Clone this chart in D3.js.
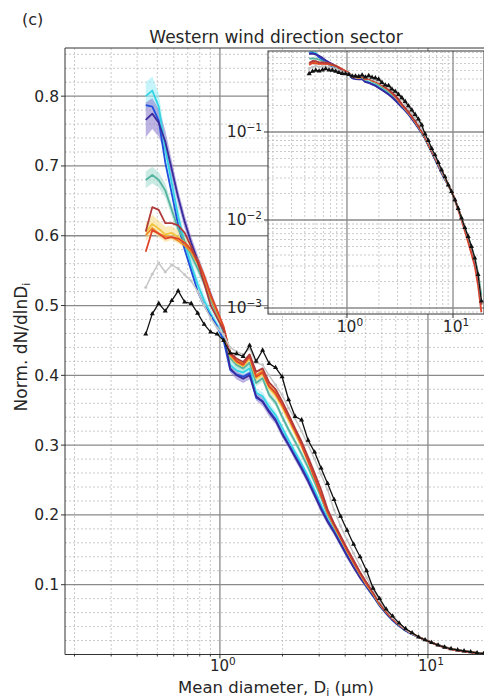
<!DOCTYPE html>
<html>
<head>
<meta charset="utf-8">
<script src="https://cdn.jsdelivr.net/npm/d3@7"></script>
<style>
body { margin: 0; background: #fff; }
text { font-family: "DejaVu Sans", sans-serif; fill: #262626; }
</style>
</head>
<body>
<script>
// mean diameter of each size bin (um)
var diameters = [0.44, 0.473, 0.508, 0.546, 0.587, 0.630, 0.677, 0.728, 0.782, 0.840, 0.903, 0.970, 1.042,
  1.120, 1.203, 1.293, 1.389, 1.493, 1.604, 1.724, 1.852, 1.990, 2.139, 2.298, 2.470, 2.654, 2.852, 3.065,
  3.293, 3.539, 3.803, 4.087, 4.392, 4.719, 5.071, 5.450, 5.856, 6.293, 6.763, 7.267, 7.809, 8.392, 9.018,
  9.691, 10.41, 11.19, 12.03, 12.92, 13.89, 14.92, 16.04, 17.23, 18.52];

// normalised dN/dlnD, one array per series
var cyanVals = [0.800, 0.808, 0.785, 0.725, 0.675, 0.628, 0.590, 0.558, 0.530, 0.507, 0.488, 0.472, 0.452,
  0.415, 0.407, 0.404, 0.410, 0.375, 0.370, 0.355, 0.343, 0.325, 0.307, 0.290, 0.273, 0.255, 0.235, 0.214,
  0.193, 0.176, 0.159, 0.142, 0.126, 0.111, 0.097, 0.084, 0.070, 0.059, 0.049, 0.041, 0.034, 0.029, 0.025,
  0.021, 0.017, 0.0135, 0.0105, 0.008, 0.0062, 0.0047, 0.0034, 0.0022, 0.0011];
var blueVals = [0.787, 0.785, 0.765, 0.705, 0.660, 0.615, 0.580, 0.550, 0.520, 0.500, 0.485, 0.470, 0.450,
  0.408, 0.401, 0.398, 0.403, 0.368, 0.363, 0.349, 0.337, 0.318, 0.301, 0.285, 0.268, 0.250, 0.230, 0.210,
  0.192, 0.177, 0.160, 0.143, 0.127, 0.112, 0.098, 0.085, 0.071, 0.060, 0.050, 0.042, 0.035, 0.029, 0.025,
  0.021, 0.017, 0.0135, 0.0105, 0.008, 0.0062, 0.0047, 0.0034, 0.0022, 0.0011];
var indigoVals = [0.766, 0.775, 0.762, 0.735, 0.695, 0.655, 0.620, 0.590, 0.565, 0.540, 0.515, 0.490, 0.462,
  0.410, 0.400, 0.395, 0.400, 0.370, 0.362, 0.347, 0.335, 0.316, 0.300, 0.283, 0.266, 0.248, 0.228, 0.208,
  0.190, 0.175, 0.158, 0.141, 0.125, 0.110, 0.097, 0.084, 0.070, 0.059, 0.049, 0.041, 0.034, 0.029, 0.025,
  0.021, 0.017, 0.0135, 0.0105, 0.008, 0.0062, 0.0047, 0.0034, 0.0022, 0.0011];
var tealVals = [0.680, 0.687, 0.680, 0.665, 0.637, 0.610, 0.592, 0.572, 0.553, 0.532, 0.508, 0.487, 0.462,
  0.425, 0.415, 0.410, 0.418, 0.389, 0.396, 0.372, 0.361, 0.341, 0.322, 0.305, 0.287, 0.268, 0.247, 0.225,
  0.200, 0.182, 0.165, 0.148, 0.131, 0.115, 0.100, 0.087, 0.072, 0.061, 0.051, 0.043, 0.036, 0.030, 0.025,
  0.021, 0.017, 0.0135, 0.0105, 0.0082, 0.0064, 0.005, 0.0037, 0.0025, 0.0014];
var brownVals = [0.606, 0.641, 0.637, 0.618, 0.618, 0.615, 0.604, 0.584, 0.562, 0.532, 0.500, 0.482, 0.465,
  0.433, 0.424, 0.419, 0.430, 0.405, 0.410, 0.390, 0.380, 0.363, 0.344, 0.324, 0.305, 0.283, 0.260, 0.236,
  0.208, 0.188, 0.170, 0.152, 0.135, 0.118, 0.103, 0.089, 0.074, 0.062, 0.052, 0.044, 0.036, 0.030, 0.025,
  0.021, 0.017, 0.0135, 0.0105, 0.008, 0.0062, 0.0047, 0.0034, 0.0022, 0.0011];
var redVals = [0.577, 0.608, 0.603, 0.596, 0.598, 0.596, 0.590, 0.580, 0.565, 0.543, 0.515, 0.493, 0.470,
  0.430, 0.420, 0.415, 0.427, 0.398, 0.404, 0.384, 0.374, 0.358, 0.339, 0.320, 0.300, 0.277, 0.253, 0.228,
  0.204, 0.185, 0.167, 0.149, 0.132, 0.116, 0.101, 0.088, 0.073, 0.061, 0.051, 0.043, 0.036, 0.030, 0.025,
  0.021, 0.017, 0.013, 0.010, 0.0075, 0.0056, 0.0041, 0.003, 0.0018, 0.0009];
var orangeVals = [0.601, 0.611, 0.603, 0.599, 0.598, 0.593, 0.586, 0.577, 0.560, 0.538, 0.512, 0.490, 0.468,
  0.432, 0.422, 0.417, 0.429, 0.400, 0.407, 0.386, 0.376, 0.360, 0.341, 0.322, 0.302, 0.279, 0.255, 0.230,
  0.205, 0.186, 0.168, 0.150, 0.133, 0.117, 0.102, 0.088, 0.073, 0.062, 0.052, 0.043, 0.036, 0.030, 0.025,
  0.021, 0.017, 0.0135, 0.0105, 0.008, 0.0062, 0.0047, 0.0034, 0.0022, 0.0011];
var goldVals = [0.605, 0.617, 0.610, 0.602, 0.604, 0.598, 0.590, 0.580, 0.563, 0.540, 0.513, 0.490, 0.466,
  0.428, 0.418, 0.413, 0.424, 0.396, 0.402, 0.382, 0.371, 0.355, 0.336, 0.317, 0.298, 0.276, 0.252, 0.228,
  0.203, 0.184, 0.166, 0.148, 0.131, 0.115, 0.100, 0.087, 0.072, 0.061, 0.051, 0.043, 0.036, 0.030, 0.025,
  0.021, 0.017, 0.0135, 0.0105, 0.008, 0.0062, 0.0047, 0.0034, 0.0022, 0.0011];
var grayVals = [0.526, 0.545, 0.561, 0.548, 0.558, 0.553, 0.544, 0.535, 0.520, 0.500, 0.482, 0.468, 0.458,
  0.440, 0.434, 0.430, 0.438, 0.418, 0.415, 0.400, 0.386, 0.372, 0.353, 0.338, 0.320, 0.300, 0.280, 0.258,
  0.236, 0.207, 0.184, 0.164, 0.145, 0.127, 0.110, 0.093, 0.077, 0.064, 0.053, 0.044, 0.036, 0.030, 0.025,
  0.021, 0.017, 0.0135, 0.0105, 0.0082, 0.0064, 0.0049, 0.0036, 0.0024, 0.0012];
var blackVals = [0.459, 0.488, 0.503, 0.492, 0.507, 0.521, 0.505, 0.503, 0.489, 0.473, 0.462, 0.459, 0.450,
  0.432, 0.431, 0.427, 0.443, 0.420, 0.436, 0.417, 0.411, 0.398, 0.365, 0.341, 0.336, 0.307, 0.290, 0.267,
  0.245, 0.222, 0.198, 0.178, 0.158, 0.140, 0.120, 0.095, 0.080, 0.065, 0.055, 0.045, 0.037, 0.031, 0.025,
  0.021, 0.017, 0.0135, 0.0105, 0.0082, 0.0065, 0.005, 0.0037, 0.0024, 0.0012];

// spread (half width of shaded band)
var cyanSd = [0.020, 0.020, 0.019, 0.017, 0.015, 0.013, 0.011, 0.010, 0.009, 0.008, 0.008, 0.007, 0.007,
  0.006, 0.006, 0.006, 0.006, 0.006, 0.006, 0.006, 0.006, 0.005, 0.005, 0.005, 0.005, 0.005, 0.005, 0.005,
  0.004, 0.004, 0.004, 0.004, 0.003, 0.003, 0.003, 0.003, 0.002, 0.002, 0.002, 0.002, 0.001, 0.001, 0.001,
  0.001, 0.001, 0.001, 0.001, 0.001, 0.001, 0.001, 0.001, 0.001, 0.001];
var indigoSd = [0.025, 0.022, 0.020, 0.016, 0.013, 0.011, 0.010, 0.009, 0.008, 0.008, 0.007, 0.007, 0.006,
  0.006, 0.006, 0.006, 0.006, 0.006, 0.006, 0.006, 0.005, 0.005, 0.005, 0.005, 0.005, 0.005, 0.005, 0.005,
  0.004, 0.004, 0.004, 0.004, 0.003, 0.003, 0.003, 0.003, 0.002, 0.002, 0.002, 0.002, 0.001, 0.001, 0.001,
  0.001, 0.001, 0.001, 0.001, 0.001, 0.001, 0.001, 0.001, 0.001, 0.001];
var tealSd = [0.012, 0.012, 0.011, 0.010, 0.009, 0.008, 0.008, 0.007, 0.007, 0.006, 0.006, 0.006, 0.005,
  0.005, 0.005, 0.005, 0.005, 0.005, 0.005, 0.005, 0.005, 0.005, 0.005, 0.005, 0.005, 0.005, 0.005, 0.005,
  0.004, 0.004, 0.004, 0.004, 0.003, 0.003, 0.003, 0.003, 0.002, 0.002, 0.002, 0.002, 0.001, 0.001, 0.001,
  0.001, 0.001, 0.001, 0.001, 0.001, 0.001, 0.001, 0.001, 0.001, 0.001];
var goldSd = [0.013, 0.013, 0.012, 0.011, 0.010, 0.009, 0.008, 0.008, 0.007, 0.007, 0.006, 0.006, 0.006,
  0.005, 0.005, 0.005, 0.005, 0.005, 0.005, 0.005, 0.005, 0.005, 0.005, 0.005, 0.005, 0.005, 0.005, 0.005,
  0.004, 0.004, 0.004, 0.004, 0.003, 0.003, 0.003, 0.003, 0.002, 0.002, 0.002, 0.002, 0.001, 0.001, 0.001,
  0.001, 0.001, 0.001, 0.001, 0.001, 0.001, 0.001, 0.001, 0.001, 0.001];

// tick labels
var mainYTicks = [0.1, 0.2, 0.3, 0.4, 0.5, 0.6, 0.7, 0.8];
var decadeTicks = [1, 10];
var decadeExp = ["0", "1"];
var insetYTicks = [0.1, 0.01, 0.001];
var insetYExp = ["\u22121", "\u22122", "\u22123"];

var series = [
  {vals: cyanVals, sd: cyanSd, color: "#33d4e4", band: "#9eeef6", w: 1.8},
  {vals: blueVals, color: "#1f4fdc", w: 1.8},
  {vals: indigoVals, sd: indigoSd, color: "#3a2a9c", band: "#9080d0", w: 1.8},
  {vals: tealVals, sd: tealSd, color: "#56b3a0", band: "#a6ddd1", w: 1.8},
  {vals: goldVals, sd: goldSd, color: "#f2c33c", band: "#f8dc8c", w: 1.8},
  {vals: orangeVals, color: "#f08a24", w: 1.8},
  {vals: redVals, color: "#e0452c", w: 1.8},
  {vals: brownVals, color: "#b03a3a", w: 1.8},
  {vals: grayVals, color: "#c6c6c6", w: 1.5, marker: "circle"},
  {vals: blackVals, color: "#111111", w: 1.3, marker: "triangle"}
];

var svg = d3.select("body").append("svg")
    .attr("width", 484)
    .attr("height", 700)
    .style("background-color", "#fff");

var main = {left: 65, right: 484, top: 48, bottom: 654.5};
var ins = {left: 268, right: 484, top: 51, bottom: 314};

var x = d3.scaleLog().domain([0.18, 18.6]).range([main.left, main.right]);
var y = d3.scaleLinear().domain([0, 0.869]).range([main.bottom, main.top]);

var xi = d3.scaleLog().domain([0.18, 19.6]).range([ins.left, ins.right]);
var yi = d3.scaleLog().domain([0.000855, 0.832]).range([ins.bottom, ins.top]);

var defs = svg.append("defs");
defs.append("clipPath").attr("id", "clipMain").append("rect")
    .attr("x", main.left).attr("y", main.top)
    .attr("width", main.right - main.left).attr("height", main.bottom - main.top);
defs.append("clipPath").attr("id", "clipInset").append("rect")
    .attr("x", ins.left).attr("y", ins.top)
    .attr("width", ins.right - ins.left).attr("height", ins.bottom - ins.top);

// minor log ticks inside a range
function logMinors(lo, hi) {
  var out = [];
  for (var e = -4; e <= 2; e++) {
    for (var m = 2; m <= 9; m++) {
      var v = m * Math.pow(10, e);
      if (v > lo && v < hi) out.push(v);
    }
  }
  return out;
}

function sup(sel, base, exp) {
  sel.append("tspan").text(base);
  sel.append("tspan").attr("dy", -6).attr("font-size", "10.5px").text(exp);
}

// ---------- main panel ----------
var grid = svg.append("g");
var yMinor = d3.range(0.02, 0.87, 0.02).filter(function(v) { return Math.abs(v * 10 - Math.round(v * 10)) > 0.01; });

grid.selectAll(".ymin").data(yMinor).enter().append("line")
    .attr("x1", main.left).attr("x2", main.right)
    .attr("y1", function(d) { return y(d); }).attr("y2", function(d) { return y(d); })
    .attr("stroke", "#bdbdbd").attr("stroke-width", 0.8).attr("stroke-dasharray", "2,2");
grid.selectAll(".xmin").data(logMinors(0.18, 18.6)).enter().append("line")
    .attr("x1", function(d) { return x(d); }).attr("x2", function(d) { return x(d); })
    .attr("y1", main.top).attr("y2", main.bottom)
    .attr("stroke", "#bdbdbd").attr("stroke-width", 0.8).attr("stroke-dasharray", "2,2");
grid.selectAll(".ymaj").data(mainYTicks).enter().append("line")
    .attr("x1", main.left).attr("x2", main.right)
    .attr("y1", function(d) { return y(d); }).attr("y2", function(d) { return y(d); })
    .attr("stroke", "#8a8a8a").attr("stroke-width", 1.3);
grid.selectAll(".xmaj").data(decadeTicks).enter().append("line")
    .attr("x1", function(d) { return x(d); }).attr("x2", function(d) { return x(d); })
    .attr("y1", main.top).attr("y2", main.bottom)
    .attr("stroke", "#8a8a8a").attr("stroke-width", 1.3);

function drawSeries(g, xs, ys, withBand) {
  if (withBand) {
    series.forEach(function(s) {
      if (!s.sd) return;
      var area = d3.area()
          .x(function(d, i) { return xs(diameters[i]); })
          .y0(function(d, i) { return ys(d - s.sd[i]); })
          .y1(function(d, i) { return ys(d + s.sd[i]); });
      g.append("path").attr("d", area(s.vals))
          .attr("fill", s.band).attr("opacity", 0.6);
    });
  }
  series.forEach(function(s) {
    var line = d3.line()
        .x(function(d, i) { return xs(diameters[i]); })
        .y(function(d) { return ys(d); });
    g.append("path").attr("d", line(s.vals))
        .attr("fill", "none").attr("stroke", s.color)
        .attr("stroke-width", s.w).attr("stroke-linejoin", "round");
    if (s.marker) {
      var sym = d3.symbol().type(s.marker == "triangle" ? d3.symbolTriangle : d3.symbolCircle)
          .size(s.marker == "triangle" ? 11 : 7);
      g.selectAll(null).data(s.vals).enter().append("path")
          .attr("d", sym)
          .attr("transform", function(d, i) { return "translate(" + xs(diameters[i]) + "," + ys(d) + ")"; })
          .attr("fill", s.color);
    }
  });
}

var plotMain = svg.append("g").attr("clip-path", "url(#clipMain)");
drawSeries(plotMain, x, y, true);

// frame
svg.append("line").attr("x1", main.left).attr("x2", main.left)
    .attr("y1", main.top).attr("y2", main.bottom).attr("stroke", "#333").attr("stroke-width", 1);
svg.append("line").attr("x1", main.left).attr("x2", main.right)
    .attr("y1", main.bottom).attr("y2", main.bottom).attr("stroke", "#333").attr("stroke-width", 1);
svg.append("line").attr("x1", main.left).attr("x2", main.right)
    .attr("y1", main.top).attr("y2", main.top).attr("stroke", "#333").attr("stroke-width", 1);

// y ticks
svg.selectAll(".yt").data(mainYTicks).enter().append("line")
    .attr("x1", main.left - 4).attr("x2", main.left)
    .attr("y1", function(d) { return y(d); }).attr("y2", function(d) { return y(d); })
    .attr("stroke", "#333");
svg.selectAll(".ytl").data(mainYTicks).enter().append("text")
    .attr("x", 59).attr("y", function(d) { return y(d) + 5.5; })
    .attr("text-anchor", "end").attr("font-size", "15.5px")
    .text(function(d) { return d.toFixed(1); });

// x ticks
svg.selectAll(".xt").data(decadeTicks).enter().append("line")
    .attr("x1", function(d) { return x(d); }).attr("x2", function(d) { return x(d); })
    .attr("y1", main.bottom).attr("y2", main.bottom + 4).attr("stroke", "#333");
svg.selectAll(".xtm").data(logMinors(0.18, 18.6)).enter().append("line")
    .attr("x1", function(d) { return x(d); }).attr("x2", function(d) { return x(d); })
    .attr("y1", main.bottom).attr("y2", main.bottom + 2).attr("stroke", "#333");
decadeTicks.forEach(function(d, i) {
  var t = svg.append("text").attr("x", x(d) + 3).attr("y", 671)
      .attr("text-anchor", "middle").attr("font-size", "15px");
  sup(t, "10", decadeExp[i]);
});

// ---------- inset ----------
svg.append("rect").attr("x", ins.left).attr("y", ins.top)
    .attr("width", ins.right - ins.left).attr("height", ins.bottom - ins.top)
    .attr("fill", "#fff");

var ig = svg.append("g");
ig.selectAll(".iym").data(logMinors(0.000855, 0.832)).enter().append("line")
    .attr("x1", ins.left).attr("x2", ins.right)
    .attr("y1", function(d) { return yi(d); }).attr("y2", function(d) { return yi(d); })
    .attr("stroke", "#bdbdbd").attr("stroke-width", 0.8).attr("stroke-dasharray", "2,2");
ig.selectAll(".ixm").data(logMinors(0.18, 19.6)).enter().append("line")
    .attr("x1", function(d) { return xi(d); }).attr("x2", function(d) { return xi(d); })
    .attr("y1", ins.top).attr("y2", ins.bottom)
    .attr("stroke", "#bdbdbd").attr("stroke-width", 0.8).attr("stroke-dasharray", "2,2");
ig.selectAll(".iyM").data(insetYTicks).enter().append("line")
    .attr("x1", ins.left).attr("x2", ins.right)
    .attr("y1", function(d) { return yi(d); }).attr("y2", function(d) { return yi(d); })
    .attr("stroke", "#8a8a8a").attr("stroke-width", 1.3);
ig.selectAll(".ixM").data(decadeTicks).enter().append("line")
    .attr("x1", function(d) { return xi(d); }).attr("x2", function(d) { return xi(d); })
    .attr("y1", ins.top).attr("y2", ins.bottom)
    .attr("stroke", "#8a8a8a").attr("stroke-width", 1.3);

var plotInset = svg.append("g").attr("clip-path", "url(#clipInset)");
drawSeries(plotInset, xi, yi, false);

svg.append("rect").attr("x", ins.left).attr("y", ins.top)
    .attr("width", ins.right - ins.left).attr("height", ins.bottom - ins.top)
    .attr("fill", "none").attr("stroke", "#333").attr("stroke-width", 1);

insetYTicks.forEach(function(d, i) {
  svg.append("line").attr("x1", ins.left - 4).attr("x2", ins.left)
      .attr("y1", yi(d)).attr("y2", yi(d)).attr("stroke", "#333");
  var t = svg.append("text").attr("x", ins.left - 6).attr("y", yi(d) + 5)
      .attr("text-anchor", "end").attr("font-size", "15.5px");
  sup(t, "10", insetYExp[i]);
});
decadeTicks.forEach(function(d, i) {
  svg.append("line").attr("x1", xi(d)).attr("x2", xi(d))
      .attr("y1", ins.bottom).attr("y2", ins.bottom + 4).attr("stroke", "#333");
  var t = svg.append("text").attr("x", xi(d) + 3).attr("y", 332)
      .attr("text-anchor", "middle").attr("font-size", "15.5px");
  sup(t, "10", decadeExp[i]);
});

// ---------- texts ----------
svg.append("text").attr("x", 22).attr("y", 25).attr("font-size", "16px").text("(c)");
svg.append("text").attr("x", 276).attr("y", 43).attr("text-anchor", "middle")
    .attr("font-size", "17px").text("Western wind direction sector");

var xl = svg.append("text").attr("x", 276).attr("y", 693).attr("text-anchor", "middle").attr("font-size", "16.5px");
xl.append("tspan").text("Mean diameter, D");
xl.append("tspan").attr("font-size", "11px").attr("dy", 3).text("i");
xl.append("tspan").attr("dy", -3).text(" (\u03bcm)");

var yl = svg.append("text").attr("transform", "translate(27,347) rotate(-90)")
    .attr("text-anchor", "middle").attr("font-size", "17px");
yl.append("tspan").text("Norm. dN/dlnD");
yl.append("tspan").attr("font-size", "11px").attr("dy", 3).text("i");
</script>
</body>
</html>
